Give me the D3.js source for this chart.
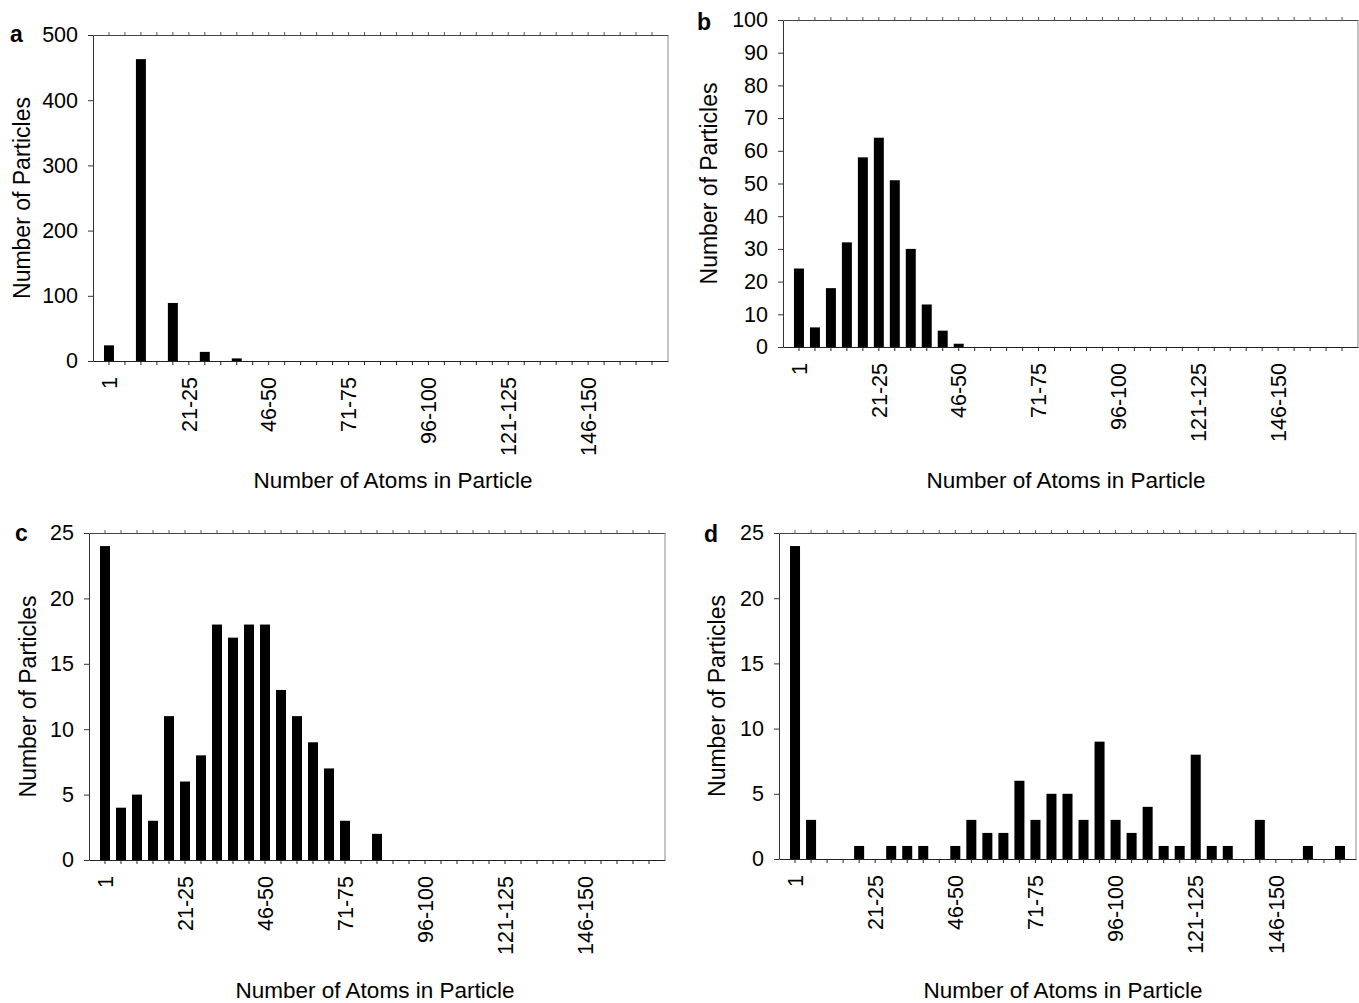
<!DOCTYPE html>
<html>
<head>
<meta charset="utf-8">
<script src="https://cdn.jsdelivr.net/npm/d3@7"></script>
<style>
  body { margin: 0; background: #fff; }
  text { font-family: "Liberation Sans", Arial, sans-serif; fill: #000; }
</style>
</head>
<body>
<svg id="chart" width="1359" height="1003"></svg>
<script>
// bins of atoms per particle
var categories = ["1", "2-5", "6-10", "11-15", "16-20", "21-25", "26-30", "31-35",
  "36-40", "41-45", "46-50", "51-55", "56-60", "61-65", "66-70", "71-75",
  "76-80", "81-85", "86-90", "91-95", "96-100", "101-105", "106-110",
  "111-115", "116-120", "121-125", "126-130", "131-135", "136-140",
  "141-145", "146-150", "151-155", "156-160", "161-165", "166-170"];

var shownLabels = ["1", "21-25", "46-50", "71-75", "96-100", "121-125", "146-150"];

var countsA = [24, 0, 463, 0, 89, 0, 14, 0, 4, 0, 0, 0, 0, 0, 0, 0, 0, 0,
  0, 0, 0, 0, 0, 0, 0, 0, 0, 0, 0, 0, 0, 0, 0, 0, 0];
var countsB = [24, 6, 18, 32, 58, 64, 51, 30, 13, 5, 1, 0, 0, 0, 0, 0, 0, 0,
  0, 0, 0, 0, 0, 0, 0, 0, 0, 0, 0, 0, 0, 0, 0, 0, 0];
var countsC = [24, 4, 5, 3, 11, 6, 8, 18, 17, 18, 18, 13, 11, 9, 7, 3, 0, 2,
  0, 0, 0, 0, 0, 0, 0, 0, 0, 0, 0, 0, 0, 0, 0, 0, 0];
var countsD = [24, 3, 0, 0, 1, 0, 1, 1, 1, 0, 1, 3, 2, 2, 6, 3, 5, 5,
  3, 9, 3, 2, 4, 1, 1, 8, 1, 1, 0, 3, 0, 0, 1, 0, 1];

var yTicksA = [0, 100, 200, 300, 400, 500];
var yTicksB = [0, 10, 20, 30, 40, 50, 60, 70, 80, 90, 100];
var yTicksCD = [0, 5, 10, 15, 20, 25];

var svg = d3.select("#chart");

function drawPanel(p) {
  var g = svg.append("g");

  // one empty step each side of the bins
  var x = d3
    .scaleBand()
    .domain(categories)
    .range([p.left, p.right])
    .paddingInner(0.375)
    .paddingOuter(0.6875);

  var y = d3
    .scaleLinear()
    .domain([0, d3.max(p.yTicks)])
    .range([p.bottom, p.top]);

  // frame: top line with small ticks, right edge
  g.append("g")
    .attr("transform", "translate(0," + p.top + ")")
    .call(d3.axisTop(x).tickSize(3).tickSizeOuter(0).tickFormat(""))
    .call(function (s) {
      s.selectAll("line").attr("stroke", "#555");
      s.select(".domain").attr("stroke", "#444");
    });

  g.append("line")
    .attr("x1", p.right)
    .attr("x2", p.right)
    .attr("y1", p.top)
    .attr("y2", p.bottom)
    .attr("stroke", "#888")
    .attr("stroke-width", 1);

  // bars
  g.selectAll("rect")
    .data(p.values.map(function (v, i) {
      return { cat: categories[i], v: v };
    }).filter(function (d) { return d.v > 0; }))
    .enter()
    .append("rect")
    .attr("x", function (d) { return x(d.cat); })
    .attr("width", x.bandwidth())
    .attr("y", function (d) { return y(d.v); })
    .attr("height", function (d) { return p.bottom - y(d.v); })
    .attr("fill", "#000");

  // x axis
  var xAxis = g.append("g")
    .attr("transform", "translate(0," + p.bottom + ")")
    .call(
      d3.axisBottom(x)
        .tickSize(4)
        .tickSizeOuter(0)
        .tickFormat(function (d) {
          return shownLabels.indexOf(d) >= 0 ? d : "";
        })
    );
  xAxis.select(".domain").attr("stroke", "#222");
  xAxis.selectAll("line").attr("stroke", "#222");
  xAxis.selectAll("text")
    .style("font-size", "21.5px")
    .attr("text-anchor", "end")
    .attr("transform", "rotate(-90)")
    .attr("x", -16)
    .attr("y", 0)
    .attr("dy", "0.36em");

  // y axis
  var yAxis = g.append("g")
    .attr("transform", "translate(" + p.left + ",0)")
    .call(d3.axisLeft(y).tickValues(p.yTicks).tickSize(5).tickSizeOuter(0).tickPadding(10));
  yAxis.select(".domain").attr("stroke", "#333");
  yAxis.selectAll("line").attr("stroke", "#333");
  yAxis.selectAll("text").style("font-size", "21.5px");

  // titles
  g.append("text")
    .attr("x", p.xTitleX)
    .attr("y", p.xTitleY)
    .attr("text-anchor", "middle")
    .style("font-size", "22.5px")
    .text("Number of Atoms in Particle");

  g.append("text")
    .attr("transform", "translate(" + p.yTitleX + "," + (p.top + p.bottom) / 2 + ") rotate(-90)")
    .attr("text-anchor", "middle")
    .style("font-size", "23px")
    .text("Number of Particles");

  g.append("text")
    .attr("x", p.letterX)
    .attr("y", p.letterY)
    .style("font-size", "23px")
    .style("font-weight", "bold")
    .text(p.letter);
}

drawPanel({
  letter: "a", letterX: 10, letterY: 42,
  left: 93, right: 668, top: 35, bottom: 361,
  values: countsA, yTicks: yTicksA,
  xTitleX: 393, xTitleY: 488, yTitleX: 30
});

drawPanel({
  letter: "b", letterX: 697, letterY: 30,
  left: 783, right: 1358, top: 20, bottom: 347,
  values: countsB, yTicks: yTicksB,
  xTitleX: 1066, xTitleY: 488, yTitleX: 717
});

drawPanel({
  letter: "c", letterX: 15, letterY: 541,
  left: 89, right: 665, top: 533, bottom: 860,
  values: countsC, yTicks: yTicksCD,
  xTitleX: 375, xTitleY: 998, yTitleX: 36
});

drawPanel({
  letter: "d", letterX: 704, letterY: 542,
  left: 779, right: 1356, top: 533, bottom: 859,
  values: countsD, yTicks: yTicksCD,
  xTitleX: 1063, xTitleY: 998, yTitleX: 725
});
</script>
</body>
</html>
